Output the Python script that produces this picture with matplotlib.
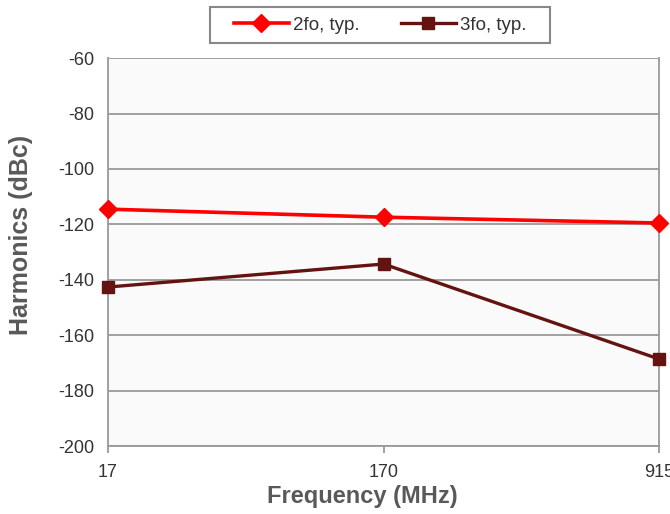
import matplotlib.pyplot as plt
import matplotlib
from matplotlib.patches import Rectangle

matplotlib.rcParams['font.family'] = ['Liberation Sans', 'DejaVu Sans']
matplotlib.rcParams['axes.unicode_minus'] = False

# 频率点（类别轴）
freqs = ['17', '170', '915']
# 谐波电平 (dBc)
h2_typ = [-114.5, -117.4, -119.5]
h3_typ = [-142.6, -134.3, -168.6]

fig = plt.figure(figsize=(6.7, 5.14), dpi=100)
fig.patch.set_facecolor('white')
ax = fig.add_axes([0.161, 0.132, 0.823, 0.755])
ax.set_facecolor('#fafafa')

x = range(len(freqs))
ax.plot(x, h2_typ, color='#ff0000', lw=2.6, marker='D', ms=9,
        label='2fo, typ.', zorder=3, clip_on=False)
ax.plot(x, h3_typ, color='#641410', lw=2.4, marker='s', ms=9,
        label='3fo, typ.', zorder=3, clip_on=False)

ax.set_xlim(0, 2)
ax.set_ylim(-200, -60)
ax.set_yticks(range(-200, -59, 20))
ax.set_xticks(list(x))
ax.set_xticklabels(freqs)

ax.grid(axis='y', color='#999999', lw=1.3)
ax.set_axisbelow(True)
for side in ['left', 'right', 'bottom']:
    ax.spines[side].set_color('#999999')
    ax.spines[side].set_linewidth(1.3)
ax.spines['top'].set_visible(False)

ax.tick_params(axis='y', length=0, pad=10, labelsize=13, labelcolor='#333333')
ax.tick_params(axis='x', length=5, width=1.3, color='#999999', pad=8,
               labelsize=13, labelcolor='#333333')

# 轴标题（按中心定位）
ax.set_xlabel('Frequency (MHz)', fontsize=17, fontweight='bold', color='#595959',
              va='center')
ax.xaxis.set_label_coords(0.461, -0.131)
ax.set_ylabel('Harmonics (dBc)', fontsize=18, fontweight='bold', color='#595959',
              va='center', ha='center')
ax.yaxis.set_label_coords(-0.158, 0.544)

# 图例：单独画外框，比默认边距更宽
box = Rectangle((210 / 670, 1 - 43 / 514), 340 / 670, 36 / 514,
                transform=fig.transFigure, facecolor='white',
                edgecolor='#888888', lw=1.5, zorder=5)
fig.patches.append(box)
leg = fig.legend(loc='center', bbox_to_anchor=(0.568, 0.951), ncol=2,
                 fontsize=13.5, frameon=False, handlelength=2.9,
                 handletextpad=0.25, columnspacing=2.2)
leg.set_zorder(6)
for t in leg.get_texts():
    t.set_color('#333333')

fig.savefig('out.png', dpi=100)
